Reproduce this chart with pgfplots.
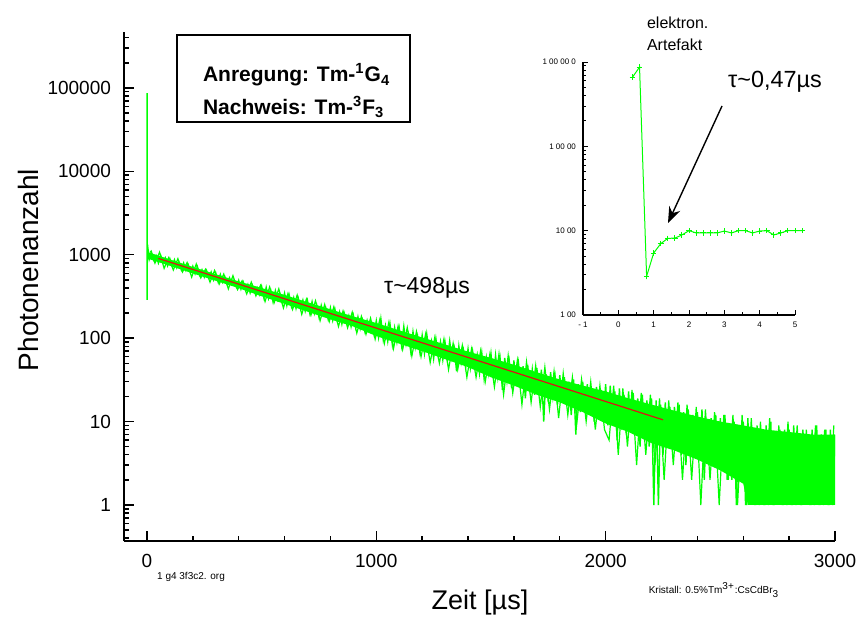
\documentclass[border=0pt]{standalone}
\usepackage{fontspec}
\setmainfont{Liberation Sans}
\usepackage{pgfplots}
\pgfplotsset{compat=1.18}
\usetikzlibrary{arrows.meta}
\definecolor{datagreen}{RGB}{0,255,0}
\definecolor{fitred}{RGB}{220,20,20}
\begin{document}
\begin{tikzpicture}
\path[use as bounding box] (0,0) rectangle (428pt,-309.5pt);
% main decay curve
\begin{axis}[at={(62pt,-270.5pt)}, anchor=south west, scale only axis,
  width=355.5pt, height=254.5pt, ymode=log,
  xmin=-100, xmax=3000, ymin=0.37, ymax=469000,
  axis x line=bottom, axis y line=left,
  axis line style={-, line width=0.9pt},
  tick align=inside, tick style={black, line width=0.7pt},
  major tick length=5pt, minor tick length=2.6pt,
  xtick={0,1000,2000,3000}, xticklabels={0,1000,2000,3000},
  minor xtick={200,400,600,800,1200,1400,1600,1800,2200,2400,2600,2800},
  ytick={1,10,100,1000,10000,100000},
  yticklabels={1,10,100,1000,10000,100000},
  minor ytick={0.4,0.5,0.6,0.7,0.8,0.9,2,3,4,5,6,7,8,9,20,30,40,50,60,70,80,90,
    200,300,400,500,600,700,800,900,2000,3000,4000,5000,6000,7000,8000,9000,
    20000,30000,40000,50000,60000,70000,80000,90000,200000,300000,400000},
  ticklabel style={font=\fontsize{9.5}{11}\selectfont},
  xticklabel style={yshift=-3pt}, yticklabel style={xshift=-3pt}]
% dense core of the noisy band (upper edge, then lower edge back)
\addplot[draw=none, fill=datagreen] coordinates {
(3,1080) (100,880) (200,715) (300,585) (400,480) (500,400) (600,330) (700,270)
(800,222) (900,182) (1000,152) (1100,124) (1200,102) (1300,84) (1400,69) (1500,58)
(1600,48) (1700,39) (1800,32) (1900,27) (2000,23) (2100,19) (2200,16) (2300,13.5)
(2400,11.5) (2500,10) (2600,9) (2700,8) (2800,7.5) (2900,7) (3000,7)
(3000,1) (2900,1) (2800,1) (2700,1) (2620,1) (2600,1.8) (2500,2.6) (2400,3.5) (2300,4.5)
(2200,5.5) (2100,7.5) (2000,9.5) (1900,13) (1800,17) (1700,21) (1600,27) (1500,34)
(1400,45) (1300,56) (1200,70) (1100,86) (1000,106) (900,138) (800,168) (700,208)
(600,258) (500,318) (400,398) (300,488) (200,598) (100,738) (3,900)};
% channel counts
\addplot[datagreen, line width=0.7pt] coordinates {
(0.4,66000) (0.6,87000) (0.8,288) (1,543) (1.2,701) (1.4,811) (2,1000) (5,1150)
(10,882) (20,1075) (30,866) (40,977) (50,796) (60,983) (70,807) (80,919) (90,742)
(100,898) (110,735) (120,870) (130,700) (140,810) (150,660) (160,795) (170,650) (180,760) (190,612)
(200,728) (210,595) (220,720) (230,570) (240,660) (250,540) (260,648) (270,530) (280,620) (290,500)
(300,605) (310,478) (320,580) (330,470) (340,540) (350,440) (360,528) (370,445) (380,495) (390,410)
(400,492) (410,388) (420,470) (430,380) (440,440) (450,350) (460,430) (470,362) (480,405) (490,335)
(500,418) (510,306) (520,405) (530,300) (540,372) (550,272) (560,370) (570,288) (580,340) (590,262)
(600,345) (610,248) (620,330) (630,240) (640,305) (650,228) (660,300) (670,226) (680,285) (690,212)
(700,282) (710,200) (720,272) (730,198) (740,250) (750,180) (760,246) (770,190) (780,228) (790,170)
(800,230) (810,164) (820,220) (830,160) (840,205) (850,148) (860,200) (870,156) (880,186) (890,138)
(900,188) (910,134) (920,180) (930,130) (940,166) (950,121) (960,162) (970,124) (980,152) (990,112)
(1000,161) (1010,103) (1020,170) (1030,98) (1040,140) (1050,92) (1060,146) (1070,84) (1080,133) (1090,90)
(1100,132) (1110,82) (1120,138) (1130,85) (1140,112) (1150,70) (1160,119) (1170,77) (1180,106) (1190,68)
(1200,108) (1210,66) (1220,112) (1230,70) (1240,92) (1250,57) (1260,98) (1270,62) (1280,90) (1290,55)
(1300,88) (1310,54) (1320,92) (1330,57) (1340,76) (1350,40) (1360,80) (1370,51) (1380,72) (1390,46)
(1400,74) (1410,44) (1420,70) (1430,46) (1440,63) (1450,38) (1460,66) (1470,33) (1480,58) (1490,38)
(1500,65) (1510,33) (1520,62) (1530,34) (1540,56) (1550,24) (1560,58) (1570,31) (1580,52) (1590,25)
(1600,54) (1610,27) (1620,50) (1630,28) (1640,46) (1650,19) (1660,48) (1670,25) (1680,42) (1690,21)
(1700,44) (1710,22) (1720,42) (1730,10) (1740,37) (1750,17) (1760,39) (1770,20) (1780,34) (1790,16)
(1800,36) (1810,18) (1820,34) (1830,18) (1840,30) (1850,12) (1860,32) (1870,7) (1880,28) (1890,13)
(1900,30) (1910,14) (1920,28) (1930,15) (1940,25) (1950,10) (1960,26) (1970,13) (1980,24) (1990,11)
(2000,28) (2010,9) (2020,27) (2030,10) (2040,23) (2050,6) (2060,25) (2070,8) (2080,21) (2090,7)
(2100,23) (2110,8) (2120,22) (2130,8) (2140,19) (2150,5) (2160,21) (2170,6) (2180,18) (2190,5)
(2200,19) (2210,1) (2220,18) (2230,1) (2240,16) (2250,4) (2260,17) (2270,5) (2280,15) (2290,6)
(2300,15) (2310,5) (2320,16) (2330,4) (2340,13) (2350,3) (2360,14) (2370,4) (2380,12) (2390,4)
(2400,13) (2410,4) (2420,14) (2430,2) (2440,10) (2450,3) (2460,11) (2470,3) (2480,12) (2490,3)
(2500,11) (2510,3) (2520,12) (2530,2) (2540,9) (2550,2) (2560,10) (2570,1) (2580,9) (2590,2)
(2600,10) (2610,1) (2620,11) (2630,2) (2640,8) (2650,1) (2660,9) (2670,1) (2680,8) (2690,1)
(2700,9) (2710,1) (2720,10) (2730,1) (2740,7) (2750,2) (2760,8) (2770,1) (2780,8) (2790,1)
(2800,8) (2810,1) (2820,9) (2830,1) (2840,7) (2850,1) (2860,8) (2870,2) (2880,7) (2890,1)
(2900,8) (2910,1) (2920,9) (2930,1) (2940,7) (2950,1) (2960,8) (2970,1) (2980,8) (2990,1)
(3000,7)};
% outlying channels (ragged edges of the band)
\addplot[datagreen, line width=0.6pt] coordinates {
(15,1116) (35,792) (55,1074) (75,687) (95,924) (115,657) (135,898) (155,621) (175,807) (195,539)
(215,776) (235,528) (255,669) (275,470) (295,649) (315,444) (335,588) (355,390) (375,562) (395,382)
(415,487) (435,339) (455,470) (475,321) (495,429) (515,275) (535,412) (555,267) (575,390) (595,230)
(615,344) (635,221) (655,329) (675,193) (695,293) (715,188) (735,281) (755,162) (775,254) (795,158)
(815,238) (835,138) (855,212) (875,133) (895,205) (915,115) (935,183) (955,111) (975,174) (995,97)
(1015,166) (1035,86) (1055,156) (1075,75) (1095,140) (1115,73) (1135,134) (1155,61) (1175,120) (1195,60)
(1215,112) (1235,51) (1255,102) (1275,50) (1295,98) (1315,42) (1335,87) (1355,42) (1375,82) (1395,34)
(1415,74) (1435,34) (1455,71) (1475,30) (1495,64) (1515,26) (1535,65) (1555,21) (1575,62) (1595,22)
(1615,54) (1635,16) (1655,52) (1675,17) (1695,47) (1715,15) (1735,45) (1755,14) (1775,40) (1795,11)
(1815,38) (1835,12) (1855,34) (1875,10) (1895,32) (1915,10) (1935,30) (1955,8) (1975,27) (1995,8)
(2015,6) (2035,27) (2055,4) (2075,25) (2095,5) (2115,24) (2135,3) (2155,22) (2175,4) (2195,21)
(2215,3) (2235,19) (2255,2) (2275,18) (2295,3) (2315,17) (2335,2) (2355,16) (2375,2) (2395,15)
(2415,1) (2435,14) (2455,2) (2475,13) (2495,1) (2515,12) (2535,2) (2555,12) (2575,1) (2595,12)
(2615,1) (2635,11) (2655,1) (2675,10) (2695,1) (2715,11) (2735,1) (2755,9) (2775,1) (2795,10)
(2815,1) (2835,9) (2855,1) (2875,8) (2895,1) (2915,9) (2935,1) (2955,8) (2975,1) (2995,9)};
\addplot[fitred, line width=0.6pt] coordinates {(50,904) (2250,10.5)};
\end{axis}
% inset: first microseconds
\begin{axis}[at={(291.5pt,-157.5pt)}, anchor=south west, scale only axis,
  width=106pt, height=126.5pt, ymode=log,
  xmin=-1, xmax=5, ymin=100, ymax=100000, clip=false,
  axis x line=bottom, axis y line=left,
  axis line style={-, line width=0.6pt},
  tick align=inside, tick style={black, line width=0.5pt},
  major tick length=2.5pt, minor tick length=1.5pt,
  xtick={-1,0,1,2,3,4,5}, xticklabels={- 1,0,1,2,3,4,5},
  minor xtick={-0.5,0.5,1.5,2.5,3.5,4.5},
  ytick={100,1000,10000,100000}, yticklabels={1 00,10 00,1 00 00,1 00 00 0},
  minor ytick={200,300,400,500,600,700,800,900,2000,3000,4000,5000,6000,7000,8000,9000,
    20000,30000,40000,50000,60000,70000,80000,90000},
  ticklabel style={font=\fontsize{4}{5}\selectfont}]
\addplot[datagreen, line width=0.5pt, mark=+, mark size=1.4pt] coordinates {
(0.4,66000) (0.6,87000) (0.8,288) (1.0,543) (1.2,701) (1.4,811) (1.6,815) (1.8,889)
(2.0,1000) (2.2,940) (2.4,940) (2.6,940) (2.8,940) (3.0,990) (3.2,940) (3.4,1000)
(3.6,1000) (3.8,940) (4.0,990) (4.2,1000) (4.4,890) (4.6,940) (4.8,1000) (5.0,1000) (5.2,1000)};
\end{axis}
% legend box
\draw[line width=0.75pt] (88.5pt,-17.5pt) rectangle (205pt,-61pt);
\node[anchor=west, font=\fontsize{10.5}{12}\selectfont\bfseries] at (98pt,-37.5pt)
  {Anregung: Tm-\textsuperscript{1}G\textsubscript{4}};
\node[anchor=west, font=\fontsize{10.5}{12}\selectfont\bfseries] at (98pt,-53.5pt)
  {Nachweis: Tm-\textsuperscript{3}F\textsubscript{3}};
% labels
\node[rotate=90, font=\fontsize{14}{16}\selectfont] at (14pt,-135pt) {Photonenanzahl};
\node[font=\fontsize{13.5}{16}\selectfont] at (240pt,-301.5pt) {Zeit [µs]};
\node[font=\fontsize{5}{6}\selectfont] at (95.5pt,-288.5pt) {1 g4 3f3c2. org};
\node[font=\fontsize{5}{6}\selectfont] at (357pt,-295pt)
  {Kristall: 0.5\%Tm\textsuperscript{3+}:CsCdBr\textsubscript{3}};
\node[font=\fontsize{11.5}{13}\selectfont] at (213.5pt,-144pt) {τ\textasciitilde498µs};
\node[font=\fontsize{11.7}{13}\selectfont] at (387.5pt,-41pt) {τ\textasciitilde0,47µs};
\node[anchor=west, font=\fontsize{8}{11}\selectfont, align=left] at (320pt,-17pt)
  {elektron.\\Artefakt};
\draw[-{Stealth[length=8pt,width=6pt]}, line width=0.7pt] (361pt,-53pt) -- (334pt,-111.5pt);
\end{tikzpicture}
\end{document}
